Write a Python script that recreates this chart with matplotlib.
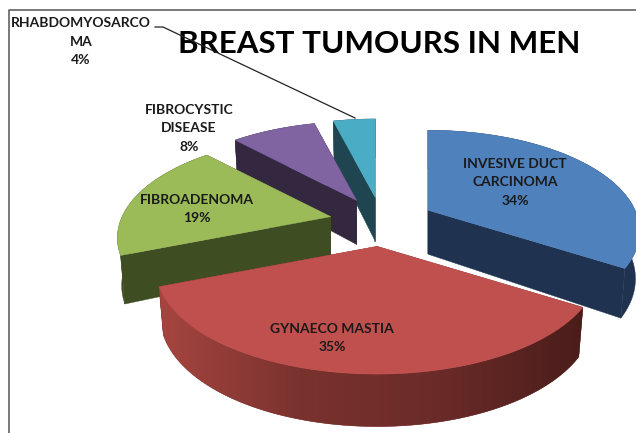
import numpy as np
import matplotlib
matplotlib.use("Agg")
import matplotlib.pyplot as plt
from matplotlib.colors import LinearSegmentedColormap

plt.rcParams['font.family'] = ['Lato', 'DejaVu Sans']

names = ["INVESIVE DUCT\nCARCINOMA", "GYNAECO MASTIA", "FIBROADENOMA",
         "FIBROCYSTIC\nDISEASE", "RHABDOMYOSARCO\nMA"]
values = [34, 35, 19, 8, 4]
title = "BREAST TUMOURS IN MEN"

top_colors = ["#4F81BD", "#C0504D", "#9BBB59", "#8064A2", "#4BACC6"]
wall_colors = ["#1F3350", "#7A302D", "#3F4D23", "#33283F", "#1F4650"]

# pie projection, in pixels of the 636x433 picture
cx, cy = 382, 222
rx, ry = 210, 98
persp = 0.209
explode = 0.25
depth = 46
apex_depth = 44
depth_tilt = 9
shrink = 0.98
near_scale = 0.03


def project(a):
    # a is clockwise from 12 o'clock, radians
    u, v = np.sin(a), np.cos(a)
    k = 1 + persp * v
    return rx * u / k, -ry * v / k


def wall_offset(a):
    return depth - depth_tilt * np.cos(a)


fig = plt.figure(figsize=(6.36, 4.33), dpi=100)
ax = fig.add_axes([0, 0, 1, 1])
ax.axis("off")

# frame of the chart area, only top and left show
ax.plot([8.5, 8.5, 636], [433, 9.5, 9.5], color="#555555", lw=1.1)

edges = np.cumsum([0] + values) / sum(values) * 2 * np.pi
slices = []
for i in range(len(values)):
    a0, a1 = edges[i], edges[i + 1]
    am = (a0 + a1) / 2
    ox = cx + explode * rx * np.sin(am)
    oy = cy - explode * ry * np.cos(am)
    slices.append((i, a0, a1, ox, oy, 1 / (1 + near_scale * np.cos(am))))

red_fade = LinearSegmentedColormap.from_list("red_fade", ["#A64540", "#7A322E", "#6A2B28", "#4A1D1B"])

# back to front
for i, a0, a1, ox, oy, sc in [slices[k] for k in (4, 3, 0, 2, 1)]:
    ang = np.linspace(a0, a1, 120)
    px, py = project(ang)
    px, py = px * sc, py * sc
    px_b = px * shrink
    py_b = py * shrink + wall_offset(ang)
    col = wall_colors[i]
    bx, by = ox, oy + apex_depth

    # cut faces
    ax.fill([ox, ox + px[0], ox + px_b[0], bx], [oy, oy + py[0], oy + py_b[0], by],
            color=col, lw=0.3)
    ax.fill([ox, ox + px[-1], ox + px_b[-1], bx], [oy, oy + py[-1], oy + py_b[-1], by],
            color=col, lw=0.3)

    # rim, the big red slice fades from left to right
    rim_x = np.r_[ox + px, (ox + px_b)[::-1]]
    rim_y = np.r_[oy + py, (oy + py_b)[::-1]]
    rim = ax.fill(rim_x, rim_y, color=col, lw=0.3)[0]
    if i == 1:
        grad = np.linspace(0, 1, 256)[None, :]
        im = ax.imshow(grad, cmap=red_fade, aspect="auto", zorder=rim.get_zorder(),
                       extent=(rim_x.min(), rim_x.max(), rim_y.max(), rim_y.min()))
        im.set_clip_path(rim)

    top = ax.fill(np.r_[ox, ox + px], np.r_[oy, oy + py], color=top_colors[i], lw=0.3)[0]
    top.set_zorder(2 + i * 0.01 if i == 1 else 1)

ax.set_xlim(0, 636)
ax.set_ylim(433, 0)

label_xy = [(515, 182.5), (332, 338), (197, 209), (189, 128.5), (81, 41.5)]
for name, val, (lx, ly) in zip(names, values, label_xy):
    ax.text(lx, ly, "%s\n%d%%" % (name, val), ha="center", va="center", zorder=5,
            fontsize=10, fontweight="bold", color="#1a1a1a", linespacing=1.68)

ax.text(379, 44, title, ha="center", va="center", fontsize=22.6, zorder=5,
        fontweight="bold", color="black")

# leader line of the smallest slice
ax.plot([155, 163, 355], [27, 27, 118], color="#222222", lw=0.9, zorder=6)

fig.savefig("out.png", dpi=100)
